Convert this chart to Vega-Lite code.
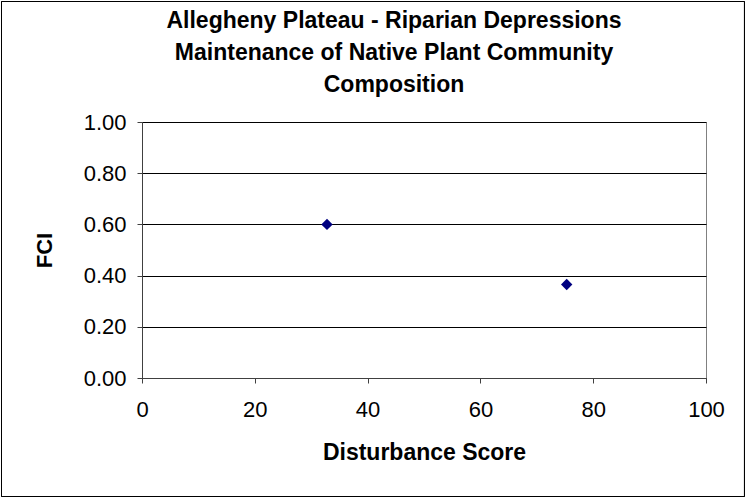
{
  "$schema": "https://vega.github.io/schema/vega-lite/v6.json",
  "autosize": {"type": "none"},
  "width": 564,
  "height": 256,
  "padding": {"left": 142, "top": 122, "right": 40, "bottom": 120},
  "background": "white",
  "config": {
    "font": "Liberation Sans",
    "view": {"stroke": "#808080", "strokeWidth": 1}
  },
  "title": {
    "text": ["Allegheny Plateau - Riparian Depressions", "Maintenance of Native Plant Community", "Composition"],
    "font": "Liberation Sans",
    "fontSize": 23,
    "fontWeight": "bold",
    "color": "#000000",
    "lineHeight": 32,
    "anchor": "middle",
    "frame": "group",
    "offset": 0,
    "dx": -30,
    "dy": 96
  },
  "data": {"values": [
    {"disturbance": 32.8, "fci": 0.60},
    {"disturbance": 75.3, "fci": 0.365}
  ]},
  "layer": [
    {
      "mark": {"type": "rect", "fill": null, "stroke": "#000000", "strokeWidth": 1},
      "encoding": {
        "x": {"datum": -24.91, "type": "quantitative"},
        "x2": {"datum": 106.82},
        "y": {"datum": 1.4707, "type": "quantitative"},
        "y2": {"datum": -0.4629}
      }
    },
    {
      "mark": {"type": "point", "shape": "diamond", "filled": true, "color": "#000080", "size": 130, "opacity": 1},
      "encoding": {
        "x": {
          "field": "disturbance",
          "type": "quantitative",
          "scale": {"domain": [0, 100], "nice": false, "zero": false},
          "axis": {
            "title": "Disturbance Score",
            "titleFont": "Liberation Sans",
            "titleFontSize": 23,
            "titleFontWeight": "bold",
            "titleColor": "#000000",
            "titlePadding": 21,
            "values": [0, 20, 40, 60, 80, 100],
            "labelFont": "Liberation Sans",
            "labelFontSize": 22,
            "labelColor": "#000000",
            "labelPadding": 16,
            "labelFlush": false,
            "domainColor": "#404040",
            "tickColor": "#404040",
            "tickSize": 5,
            "grid": false
          }
        },
        "y": {
          "field": "fci",
          "type": "quantitative",
          "scale": {"domain": [0, 1], "nice": false, "zero": true},
          "axis": {
            "title": "FCI",
            "titleFont": "Liberation Sans",
            "titleFontSize": 22,
            "titleFontWeight": "bold",
            "titleColor": "#000000",
            "titlePadding": 27,
            "values": [0, 0.2, 0.4, 0.6, 0.8, 1.0],
            "format": ".2f",
            "labelFont": "Liberation Sans",
            "labelFontSize": 22,
            "labelColor": "#000000",
            "labelPadding": 11,
            "labelFlush": false,
            "domainColor": "#404040",
            "tickColor": "#404040",
            "tickSize": 5,
            "grid": true,
            "gridColor": "#000000",
            "gridWidth": 1
          }
        }
      }
    }
  ]
}
